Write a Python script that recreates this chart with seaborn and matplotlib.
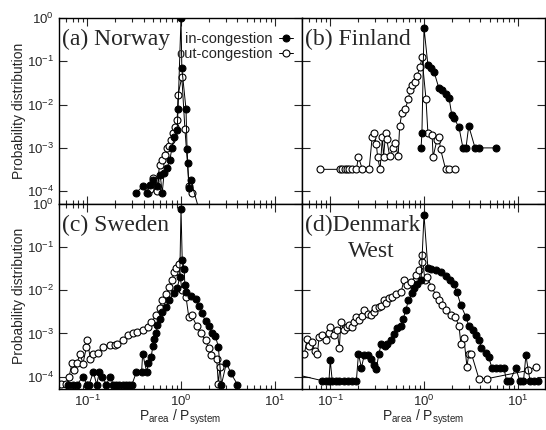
import matplotlib
matplotlib.use("Agg")
import matplotlib.pyplot as plt
import matplotlib.ticker as mticker
import seaborn as sns
import numpy as np

# (a) Norway
nor_in_x = [0.33, 0.39, 0.43, 0.47, 0.50, 0.55, 0.60, 0.63, 0.66, 0.71, 0.76, 0.80, 0.85, 0.91, 0.93, 1.00, 1.02, 1.13, 1.16, 1.18, 1.21, 1.27, 1.60]
nor_in_y = [9e-5, 1.3e-4, 9e-5, 1.4e-4, 1.8e-4, 1.3e-4, 2.4e-4, 9e-5, 2.6e-4, 3.5e-4, 5.2e-4, 1.0e-3, 1.8e-3, 2.6e-3, 7.9e-3, 1.0, 0.07, 7.9e-3, 9.3e-4, 4.5e-4, 1.2e-4, 1.8e-4, 3e-5]
nor_out_x = [0.44, 0.47, 0.50, 0.53, 0.55, 0.59, 0.63, 0.68, 0.71, 0.75, 0.78, 0.82, 0.86, 0.91, 0.93, 1.02, 1.10, 1.22, 1.30]
nor_out_y = [9e-5, 1.1e-4, 2.0e-4, 1.7e-4, 1.0e-4, 4.0e-4, 5.2e-4, 6.8e-4, 1.0e-3, 1.1e-3, 1.5e-3, 2.2e-3, 3.0e-3, 4.4e-3, 1.7e-2, 4.3e-2, 2.8e-3, 1.3e-4, 9e-5]

# (b) Finland
fin_in_x = [0.93, 0.95, 1.00, 1.10, 1.19, 1.28, 1.44, 1.55, 1.70, 1.85, 1.98, 2.08, 2.36, 2.60, 2.80, 3.00, 3.50, 3.85, 5.80]
fin_in_y = [1.0e-3, 2.2e-3, 0.59, 0.082, 0.07, 0.057, 0.024, 0.022, 0.018, 0.014, 5.7e-3, 4.9e-3, 3.0e-3, 1.0e-3, 1.0e-3, 3.2e-3, 1.0e-3, 1.0e-3, 1.0e-3]
fin_out_x = [0.078, 0.128, 0.135, 0.142, 0.150, 0.158, 0.170, 0.19, 0.20, 0.22, 0.26, 0.28, 0.29, 0.31, 0.32, 0.34, 0.36, 0.37, 0.39, 0.40, 0.43, 0.47, 0.49, 0.53, 0.55, 0.58, 0.63, 0.68, 0.71, 0.75, 0.80, 0.84, 0.91, 0.95, 1.05, 1.10, 1.22, 1.25, 1.37, 1.44, 1.50, 1.70, 1.85, 2.14]
fin_out_y = [3.2e-4, 3.2e-4, 3.2e-4, 3.2e-4, 3.2e-4, 3.2e-4, 3.2e-4, 3.2e-4, 6.2e-4, 3.2e-4, 3.2e-4, 1.8e-3, 2.2e-3, 1.25e-3, 6.2e-4, 3.2e-4, 1.8e-3, 6.2e-4, 2.2e-3, 1.6e-3, 6.5e-4, 1.0e-3, 1.3e-3, 6.5e-4, 3.2e-3, 6.3e-3, 7.9e-3, 0.0133, 0.0216, 0.028, 0.033, 0.046, 0.074, 0.126, 0.0133, 2.2e-3, 2.0e-3, 6.2e-4, 1.5e-3, 1.8e-3, 9.4e-4, 3.2e-4, 3.2e-4, 3.2e-4]

# (c) Sweden
swe_in_x = [0.063, 0.070, 0.078, 0.090, 0.100, 0.105, 0.116, 0.126, 0.135, 0.145, 0.160, 0.175, 0.190, 0.205, 0.220, 0.240, 0.260, 0.280, 0.300, 0.335, 0.380, 0.390, 0.430, 0.450, 0.480, 0.500, 0.520, 0.545, 0.560, 0.590, 0.630, 0.700, 0.750, 0.840, 0.910, 0.970, 1.00, 1.03, 1.08, 1.10, 1.13, 1.27, 1.43, 1.55, 1.67, 1.83, 1.97, 2.15, 2.33, 2.50, 2.70, 3.05, 3.40, 4.00]
swe_in_y = [6.6e-5, 6.6e-5, 6.6e-5, 1.0e-4, 6.6e-5, 6.6e-5, 1.3e-4, 6.6e-5, 1.3e-4, 1.0e-4, 6.6e-5, 1.0e-4, 6.6e-5, 6.6e-5, 6.6e-5, 6.6e-5, 6.6e-5, 6.6e-5, 6.6e-5, 1.3e-4, 1.3e-4, 3.4e-4, 1.3e-4, 2.1e-4, 2.8e-4, 5.0e-4, 7.3e-4, 1.0e-3, 1.6e-3, 2.2e-3, 3.2e-3, 4.1e-3, 6.0e-3, 8.5e-3, 1.1e-2, 2.0e-2, 0.75, 0.05, 0.03, 0.013, 9.0e-3, 7.3e-3, 6.2e-3, 4.2e-3, 2.9e-3, 1.9e-3, 1.5e-3, 1.0e-3, 8.6e-4, 4.9e-4, 6.6e-5, 2.1e-4, 1.2e-4, 6.6e-5]
swe_out_x = [0.052, 0.059, 0.064, 0.069, 0.073, 0.078, 0.084, 0.090, 0.098, 0.100, 0.108, 0.116, 0.130, 0.147, 0.175, 0.197, 0.210, 0.240, 0.270, 0.305, 0.340, 0.390, 0.440, 0.480, 0.545, 0.590, 0.630, 0.700, 0.750, 0.800, 0.840, 0.885, 0.950, 1.02, 1.13, 1.21, 1.30, 1.47, 1.62, 1.83, 1.97, 2.10, 2.40, 2.50, 2.60]
swe_out_y = [6.9e-5, 6.9e-5, 1.0e-4, 2.1e-4, 1.4e-4, 2.1e-4, 3.4e-4, 2.0e-4, 4.8e-4, 6.9e-4, 2.6e-4, 3.4e-4, 3.6e-4, 4.8e-4, 5.3e-4, 5.3e-4, 5.6e-4, 6.9e-4, 9.0e-4, 1.0e-3, 1.1e-3, 1.2e-3, 1.4e-3, 1.8e-3, 2.6e-3, 3.8e-3, 5.9e-3, 8.0e-3, 1.2e-2, 1.7e-2, 2.6e-2, 3.2e-2, 4.0e-2, 1.0e-2, 7.0e-3, 2.4e-3, 2.6e-3, 1.5e-3, 1.0e-3, 7.0e-4, 4.5e-4, 3.2e-4, 2.6e-4, 6.9e-5, 1.7e-4]

# (d) Denmark West
den_in_x = [0.045, 0.082, 0.090, 0.097, 0.100, 0.105, 0.115, 0.125, 0.140, 0.155, 0.170, 0.190, 0.200, 0.215, 0.230, 0.250, 0.270, 0.290, 0.310, 0.330, 0.350, 0.380, 0.400, 0.440, 0.480, 0.520, 0.570, 0.600, 0.640, 0.680, 0.750, 0.780, 0.850, 0.930, 1.00, 1.10, 1.20, 1.34, 1.50, 1.72, 1.90, 2.08, 2.24, 2.47, 2.80, 3.00, 3.30, 3.60, 3.85, 4.10, 4.55, 4.90, 5.30, 5.80, 6.50, 7.10, 7.60, 8.30, 9.50, 10.5, 11.5, 12.2, 13.5, 15.0, 16.5]
den_in_y = [1.1e-4, 8.1e-5, 8.1e-5, 8.1e-5, 2.4e-4, 8.1e-5, 8.1e-5, 8.1e-5, 8.1e-5, 8.1e-5, 8.1e-5, 8.1e-5, 3.4e-4, 1.6e-4, 3.1e-4, 3.1e-4, 2.6e-4, 1.9e-4, 1.5e-4, 3.4e-4, 5.8e-4, 5.0e-4, 5.8e-4, 7.0e-4, 9.8e-4, 1.3e-3, 1.5e-3, 2.2e-3, 3.4e-3, 5.8e-3, 8.5e-3, 1.1e-2, 1.4e-2, 1.7e-2, 0.55, 3.2e-2, 3.1e-2, 2.9e-2, 2.6e-2, 2.1e-2, 1.7e-2, 1.4e-2, 9.0e-3, 4.5e-3, 2.4e-3, 1.5e-3, 1.2e-3, 9.0e-4, 7.0e-4, 4.7e-4, 3.6e-4, 2.8e-4, 1.6e-4, 1.6e-4, 1.6e-4, 1.6e-4, 8.0e-5, 8.0e-5, 1.6e-4, 8.0e-5, 8.0e-5, 3.1e-4, 8.0e-5, 8.0e-5, 8.0e-5]
den_out_x = [0.053, 0.057, 0.060, 0.064, 0.068, 0.073, 0.076, 0.082, 0.090, 0.097, 0.100, 0.110, 0.118, 0.125, 0.130, 0.140, 0.150, 0.160, 0.170, 0.180, 0.190, 0.205, 0.220, 0.230, 0.250, 0.270, 0.290, 0.300, 0.330, 0.350, 0.370, 0.390, 0.420, 0.460, 0.500, 0.570, 0.610, 0.660, 0.720, 0.820, 0.880, 0.950, 0.960, 1.02, 1.08, 1.20, 1.34, 1.45, 1.55, 1.70, 1.94, 2.15, 2.36, 2.47, 2.66, 2.87, 3.00, 3.20, 3.85, 4.70, 13.0, 15.5]
den_out_y = [3.4e-4, 7.6e-4, 5.0e-4, 6.5e-4, 4.0e-4, 3.4e-4, 8.1e-4, 9.0e-4, 7.0e-4, 1.0e-3, 1.4e-3, 9.0e-4, 1.2e-3, 4.7e-4, 1.8e-3, 1.2e-3, 1.4e-3, 1.6e-3, 1.4e-3, 1.8e-3, 2.4e-3, 2.0e-3, 2.5e-3, 3.4e-3, 2.8e-3, 2.6e-3, 3.2e-3, 3.8e-3, 4.0e-3, 4.2e-3, 5.9e-3, 5.0e-3, 6.5e-3, 7.0e-3, 8.0e-3, 9.0e-3, 1.7e-2, 1.3e-2, 1.5e-2, 2.2e-2, 2.9e-2, 4.5e-2, 6.5e-2, 1.7e-2, 2.0e-2, 1.2e-2, 7.7e-3, 6.0e-3, 4.5e-3, 3.4e-3, 2.6e-3, 2.4e-3, 1.5e-3, 5.8e-4, 8.0e-4, 1.7e-4, 3.4e-4, 3.4e-4, 9.0e-5, 9.0e-5, 1.4e-4, 1.7e-4]

panels = [
    ("(a) Norway", nor_in_x, nor_in_y, nor_out_x, nor_out_y),
    ("(b) Finland", fin_in_x, fin_in_y, fin_out_x, fin_out_y),
    ("(c) Sweden", swe_in_x, swe_in_y, swe_out_x, swe_out_y),
    ("(d)Denmark", den_in_x, den_in_y, den_out_x, den_out_y),
]

sns.set_theme(style="ticks")
plt.rcParams['font.family'] = ['Liberation Sans', 'DejaVu Sans']
plt.rcParams['mathtext.default'] = 'regular'

fig, axes = plt.subplots(2, 2, figsize=(5.46, 4.30), dpi=100, sharex=True, sharey=True)
fig.subplots_adjust(left=59/546, right=545/546, top=1-18/430, bottom=1-389/430, wspace=0, hspace=0)

for ax, (title, xin, yin, xout, yout) in zip(axes.flat, panels):
    sns.lineplot(x=xout, y=yout, ax=ax, estimator=None, sort=False, color='black', lw=0.7,
                 marker='o', markersize=5, markerfacecolor='white', markeredgecolor='black',
                 markeredgewidth=0.8, label='out-congestion', legend=False)
    sns.lineplot(x=xin, y=yin, ax=ax, estimator=None, sort=False, color='black', lw=0.7,
                 marker='o', markersize=5, markerfacecolor='black', markeredgecolor='black',
                 label='in-congestion', legend=False)
    ax.set_xscale('log')
    ax.set_yscale('log')
    ax.set_xlim(0.05, 19.5)
    ax.set_ylim(5.2e-5, 1.0)
    ax.text(0.012, 0.94, title, transform=ax.transAxes, ha='left', va='top',
            family='Liberation Serif', fontsize=17)
    ax.tick_params(which='both', direction='in', top=True, right=True, labelsize=9.5, width=0.8)
    ax.tick_params(which='major', length=6)
    ax.tick_params(which='minor', length=3)
    ax.yaxis.set_minor_locator(mticker.NullLocator())
    ax.xaxis.set_major_locator(mticker.LogLocator(base=10, numticks=10))
    ax.xaxis.set_minor_locator(mticker.LogLocator(base=10, subs=np.arange(2, 10), numticks=10))
    for s in ax.spines.values():
        s.set_linewidth(1.0)
        s.set_color('black')

axes[1, 1].text(0.285, 0.80, "West", transform=axes[1, 1].transAxes, ha='center', va='top',
                family='Liberation Serif', fontsize=17)

for ax in axes[:, 0]:
    ax.set_ylabel('Probability distribution', fontsize=10, labelpad=1)
for ax in axes[1, :]:
    ax.set_xlabel(r'P$_{area}$ / P$_{system}$', fontsize=10, labelpad=-1)

# legend in panel (a)
h, l = axes[0, 0].get_legend_handles_labels()
axes[0, 0].legend(h[::-1], l[::-1], loc='upper right', bbox_to_anchor=(1.0, 0.97), frameon=False,
                  markerfirst=False, handlelength=1.0, handletextpad=0.4, fontsize=10.5,
                  labelspacing=0.05, borderaxespad=0.2)

fig.savefig('out.png', dpi=100)
